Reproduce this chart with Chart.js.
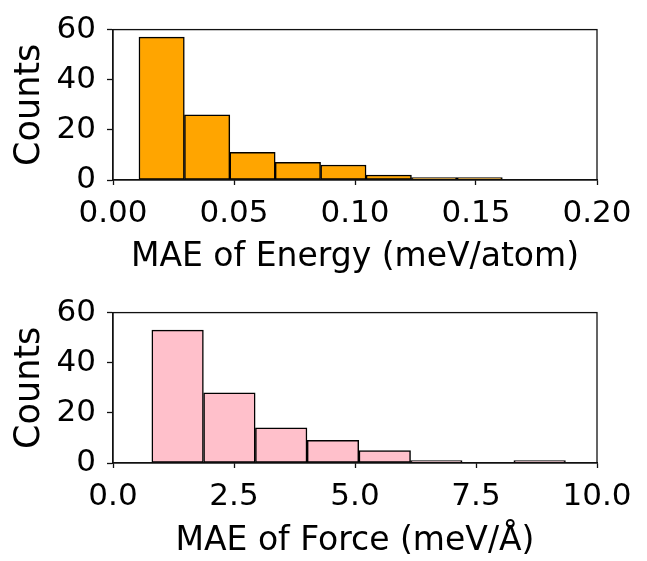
<!DOCTYPE html>
<html>
<head>
<meta charset="utf-8">
<script src="https://cdn.jsdelivr.net/npm/chart.js@4.4.1/dist/chart.umd.min.js"></script>
<style>
    html, body { margin: 0; padding: 0; background: #fff; }
    body { width: 647px; height: 561px; position: relative; overflow: hidden; }
    canvas { position: absolute; left: 0; }
    #energyChart { top: 0; }
    #forceChart { top: 283px; }
</style>
</head>
<body>
<canvas id="energyChart" width="647" height="280"></canvas>
<canvas id="forceChart" width="647" height="278"></canvas>
<script>
// Histogram data
const energyEdges = [0.0107, 0.0295, 0.0483, 0.0670, 0.0858, 0.1046, 0.1233, 0.1421, 0.1609];
const energyCounts = [57, 26, 11, 7, 6, 2, 1, 1];
const energyTicks = [0, 0.05, 0.10, 0.15, 0.20];
const energyTickLabels = ['0.00', '0.05', '0.10', '0.15', '0.20'];

const forceEdges = [0.80, 1.87, 2.94, 4.01, 5.08, 6.15, 7.21, 8.28, 9.35];
const forceCounts = [53, 28, 14, 9, 5, 1, 0, 1];
const forceTicks = [0, 2.5, 5.0, 7.5, 10.0];
const forceTickLabels = ['0.0', '2.5', '5.0', '7.5', '10.0'];

const countTicks = [0, 20, 40, 60];
const countTickLabels = ['0', '20', '40', '60'];

const FONT = "'DejaVu Sans', sans-serif";
const INK = '#111';

// full box around the plot area
const frameBox = {
    id: 'frameBox',
    afterDatasetsDraw(chart) {
        const { ctx, chartArea: a } = chart;
        ctx.save();
        ctx.strokeStyle = INK;
        ctx.lineWidth = 1.3;
        ctx.strokeRect(a.left, a.top, a.right - a.left, a.bottom - a.top);
        ctx.restore();
    }
};

function makeHist(id, edges, counts, color, xTicks, xLabels, xMax, xTitle, xHeight, titlePad) {
    const points = counts.map((c, i) => ({ x: (edges[i] + edges[i + 1]) / 2, y: c }));
    return new Chart(document.getElementById(id), {
        type: 'bar',
        data: {
            datasets: [{
                data: points,
                backgroundColor: color,
                borderColor: '#000',
                borderWidth: 1.5,
                borderSkipped: false,
                barPercentage: 1,
                categoryPercentage: 1
            }]
        },
        options: {
            responsive: false,
            animation: false,
            devicePixelRatio: 1,
            layout: { padding: { top: 23, right: 50, left: 0, bottom: 0 } },
            plugins: { legend: { display: false }, tooltip: { enabled: false } },
            scales: {
                x: {
                    type: 'linear',
                    min: 0,
                    max: xMax,
                    offset: false,
                    afterBuildTicks: s => { s.ticks = xTicks.map(v => ({ value: v })); },
                    afterFit: s => { s.height = xHeight; },
                    grid: { offset: false, drawOnChartArea: false, drawTicks: true, tickLength: 5, tickColor: INK, tickWidth: 1.3 },
                    border: { display: true, color: INK, width: 1.3 },
                    ticks: {
                        color: '#000',
                        padding: 10,
                        maxRotation: 0,
                        autoSkip: false,
                        font: { family: FONT, size: 31 },
                        callback: (v, i) => xLabels[i]
                    },
                    title: {
                        display: true,
                        text: xTitle,
                        color: '#000',
                        font: { family: FONT, size: 33 },
                        padding: { top: 0, bottom: titlePad }
                    }
                },
                y: {
                    min: 0,
                    max: 60,
                    afterBuildTicks: s => { s.ticks = countTicks.map(v => ({ value: v })); },
                    afterFit: s => { s.width = 113; },
                    grid: { drawOnChartArea: false, drawTicks: true, tickLength: 6, tickColor: INK, tickWidth: 1.3 },
                    border: { display: true, color: INK, width: 1.3 },
                    ticks: {
                        color: '#000',
                        padding: 11,
                        autoSkip: false,
                        font: { family: FONT, size: 31 },
                        callback: (v, i) => countTickLabels[i]
                    },
                    title: {
                        display: true,
                        text: 'Counts',
                        color: '#000',
                        font: { family: FONT, size: 35 },
                        padding: { top: 9, bottom: 0 }
                    }
                }
            }
        },
        plugins: [frameBox]
    });
}

makeHist('energyChart', energyEdges, energyCounts, '#FFA500', energyTicks, energyTickLabels, 0.20,
    'MAE of Energy (meV/atom)', 100, 3);
makeHist('forceChart', forceEdges, forceCounts, '#FFC0CB', forceTicks, forceTickLabels, 10.0,
    'MAE of Force (meV/\u00C5)', 98, 0);
</script>
</body>
</html>
